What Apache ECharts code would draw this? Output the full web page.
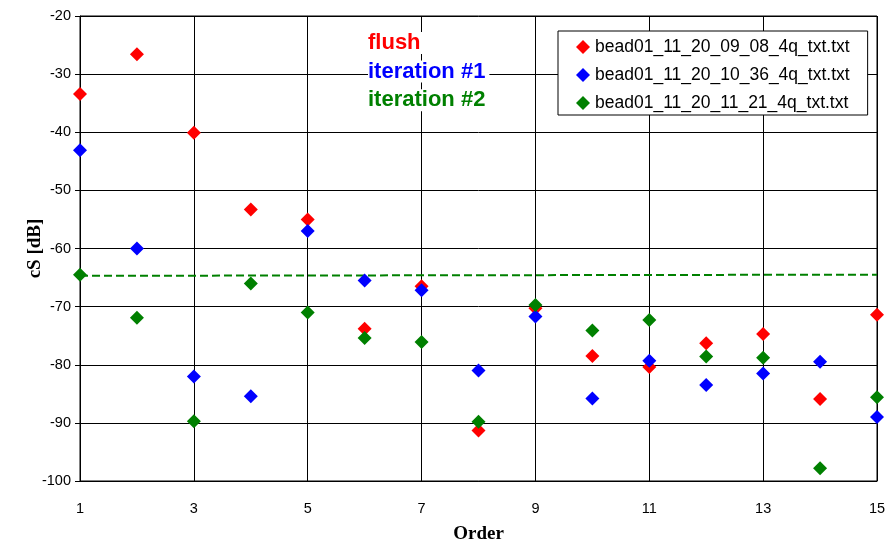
<!DOCTYPE html>
<html>
<head>
<meta charset="utf-8">
<script src="https://cdn.jsdelivr.net/npm/echarts@6/dist/echarts.min.js"></script>
<style>
  html, body { margin: 0; padding: 0; background: #fff; }
  #chart { width: 888px; height: 540px; }
</style>
</head>
<body>
<div id="chart"></div>
<script>
// Measurement orders (x) shared by all three runs
const orders = [1, 2, 3, 4, 5, 6, 7, 8, 9, 10, 11, 12, 13, 14, 15];

// cS values in dB for each run
const flushValues = [-33.4, -26.6, -40.1, -53.3, -55.0, -73.8, -66.5, -91.3, -70.3, -78.5, -80.4, -76.3, -74.7, -85.9, -71.4];
const iter1Values = [-43.1, -60.0, -82.0, -85.4, -57.0, -65.5, -67.2, -81.0, -71.7, -85.8, -79.3, -83.5, -81.5, -79.5, -89.0];
const iter2Values = [-64.5, -71.9, -89.7, -66.0, -71.0, -75.4, -76.1, -89.8, -69.7, -74.1, -72.3, -78.6, -78.8, -97.8, -85.6];

// Reference level (dashed line) end points
const refX = [1, 15];
const refY = [-64.7, -64.5];

const seriesNames = [
  'bead01_11_20_09_08_4q_txt.txt',
  'bead01_11_20_10_36_4q_txt.txt',
  'bead01_11_20_11_21_4q_txt.txt'
];
const seriesColors = ['#ff0000', '#0000ff', '#008000'];
const annotations = ['flush', 'iteration #1', 'iteration #2'];

const yTicks = { min: -100, max: -20, step: 10 };
const xTicks = { min: 1, max: 15, step: 2 };

const pairs = (xs, ys) => xs.map((x, i) => [x, ys[i]]);
const allValues = [flushValues, iter1Values, iter2Values];

const chart = echarts.init(document.getElementById('chart'), null, { renderer: 'canvas' });

const scatterSeries = allValues.map((vals, i) => ({
  name: seriesNames[i],
  type: 'scatter',
  symbol: 'diamond',
  symbolSize: 14,
  itemStyle: { color: seriesColors[i], opacity: 1 },
  data: pairs(orders, vals),
  z: 3
}));

const serifName = { fontFamily: 'Liberation Serif, Times New Roman, serif', fontWeight: 'bold', fontSize: 19, color: '#000' };

chart.setOption({
  animation: false,
  backgroundColor: '#ffffff',
  textStyle: { fontFamily: 'Liberation Sans, Arial, sans-serif' },
  grid: {
    left: 80, right: 11, top: 16, bottom: 59,
    outerBoundsMode: 'none',
    containLabel: false,
    show: true, borderColor: '#000', borderWidth: 1, backgroundColor: 'transparent'
  },
  xAxis: {
    type: 'value',
    min: xTicks.min, max: xTicks.max, interval: xTicks.step,
    name: 'Order',
    nameLocation: 'middle',
    nameGap: 44,
    nameTextStyle: serifName,
    axisLine: { show: true, onZero: false, lineStyle: { color: '#000', width: 1 } },
    axisTick: { show: false },
    axisLabel: { color: '#000', fontSize: 14.5, margin: 20 },
    splitLine: { show: true, lineStyle: { color: '#000', width: 1 } }
  },
  yAxis: {
    type: 'value',
    min: yTicks.min, max: yTicks.max, interval: yTicks.step,
    name: 'cS [dB]',
    nameLocation: 'middle',
    nameGap: 35,
    nameMoveOverlap: false,
    nameRotate: 90,
    nameTextStyle: serifName,
    axisLine: { show: true, lineStyle: { color: '#000', width: 1 } },
    axisTick: { show: true, length: 5, inside: false, lineStyle: { color: '#000' } },
    axisLabel: { color: '#000', fontSize: 14.5, margin: 9 },
    splitLine: { show: true, lineStyle: { color: '#000', width: 1 } }
  },
  legend: {
    data: seriesNames,
    orient: 'vertical',
    left: 558, top: 31,
    padding: [7, 18, 3, 18],
    itemGap: 10,
    itemWidth: 14, itemHeight: 14,
    backgroundColor: '#fff',
    borderColor: '#000', borderWidth: 1,
    textStyle: { fontSize: 17.5, color: '#000', fontFamily: 'Liberation Sans, Arial, sans-serif' }
  },
  graphic: annotations.map((t, i) => ({
    type: 'text',
    left: 368,
    top: 32 + i * 28.6,
    z: 10,
    style: {
      text: t,
      fill: seriesColors[i],
      font: 'bold 22px "Liberation Sans", Arial, sans-serif',
      backgroundColor: '#fff',
      padding: [0, 4, 0, 0]
    }
  })),
  series: scatterSeries.concat([{
    name: 'reference',
    type: 'line',
    symbol: 'none',
    silent: true,
    lineStyle: { color: '#008000', type: [8, 4], width: 2 },
    data: pairs(refX, refY),
    z: 2
  }])
});
</script>
</body>
</html>
